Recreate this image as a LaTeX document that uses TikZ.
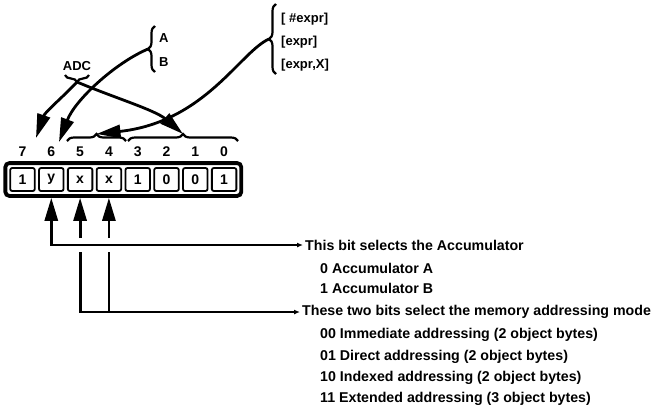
\documentclass[tikz,border=0pt]{standalone}
\usepackage{fontspec}
\setmainfont{Liberation Sans}
\usetikzlibrary{arrows.meta,decorations.pathreplacing,fit}

\tikzset{
  cell/.style={draw,line width=1.8pt,rounded corners=2pt,minimum width=24.5pt,
               minimum height=23pt,inner sep=0pt,font=\bfseries\fontsize{14}{14}\selectfont},
  regbox/.style={draw,line width=3.8pt,rounded corners=4pt,inner sep=4pt},
  bitno/.style={inner sep=0pt,font=\bfseries\fontsize{14}{14}\selectfont},
  opnd/.style={anchor=west,inner sep=0pt,font=\bfseries\fontsize{13}{13}\selectfont},
  note/.style={anchor=west,inner sep=2pt,font=\bfseries\fontsize{14.2}{14}\selectfont},
  curly/.style={decorate,decoration={brace,amplitude=7pt},line width=2.2pt},
  link/.style={line width=2.8pt},
  bigtip/.style={-{Triangle[length=24pt,width=13pt]}},
}

\begin{document}
\begin{tikzpicture}[x=1pt,y=-1pt]
\useasboundingbox (0,0) rectangle (655,408);

% the instruction byte
\foreach \n/\x/\t in {7/22.5/1,6/51.3/y,5/80.1/x,4/108.9/x,
                      3/137.7/1,2/166.5/0,1/195.3/0,0/224.1/1} {
  \node [cell]  (b\n) at (\x,179.5) {\t};
  \node [bitno] (n\n) at (\x,152)   {\n};
}
\node [regbox,fit=(b7)(b0)] (reg) {};

% operands
\node [opnd,anchor=center] (adc) at (77,66) {ADC};
\node [opnd] (ra) at (159,38) {A};
\node [opnd] (rb) at (159,62) {B};
\node [opnd] (e1) at (281,19) {[ \#expr]};
\node [opnd] (e2) at (281,42) {[expr]};
\node [opnd] (e3) at (281,65) {[expr,X]};

\draw [curly] (89,75)   -- (65,75);
\draw [curly] (155,72)  -- (155,26);
\draw [curly] (276,74)  -- (276,4);
\draw [curly] (67,141)  -- (126,141);
\draw [curly] (128,141) -- (238,141);

\coordinate (adcb) at (77,82);
\coordinate (abb)  at (148,49);
\coordinate (exb)  at (269,39);
\coordinate (b54)  at (96.5,134);
\coordinate (b30)  at (183,134);
\coordinate (to7)  at (36,138);
\coordinate (to6)  at (59,142);

\draw [link,bigtip] (adcb) .. controls (65,95) and (45,112) .. (to7);
\draw [link,bigtip] (adcb) .. controls (115,98) and (155,110) .. (b30);
\draw [link,bigtip] (abb) .. controls (115,63) and (75,100) .. (to6);
\draw [link,bigtip] (exb) .. controls (240,52) and (205,122) .. (b54);

% what the bits select
\node [note] (acc)  at (303,245) {This bit selects the Accumulator};
\node [note] (acca) at (318,268) {0 Accumulator A};
\node [note] (accb) at (318,288) {1 Accumulator B};
\node [note] (mode) at (300,312) {These two bits select the memory addressing mode};
\node [note] (m00)  at (318,335) {00 Immediate addressing (2 object bytes)};
\node [note] (m01)  at (318,357) {01 Direct addressing (2 object bytes)};
\node [note] (m10)  at (318,378) {10 Indexed addressing (2 object bytes)};
\node [note] (m11)  at (318,399) {11 Extended addressing (3 object bytes)};

\coordinate (x5) at (b5 |- acc.west);
\coordinate (x4) at (b4 |- acc.west);

\draw [link,{Latex[length=6pt,width=5pt]}-{Triangle[length=23pt,width=13pt]}]
      (acc.west) -| (b6 |- reg.south);
\draw [link,{Latex[length=6pt,width=5pt]}-] (mode.west) -| ([yshift=-7pt]x5);
\draw [link] (b4 |- mode.west) -- ([yshift=-7pt]x4);
\draw [link,-{Triangle[length=23pt,width=13pt]}] ([yshift=7pt]x5) -- (b5 |- reg.south);
\draw [link,-{Triangle[length=23pt,width=13pt]}] ([yshift=7pt]x4) -- (b4 |- reg.south);
\end{tikzpicture}
\end{document}
